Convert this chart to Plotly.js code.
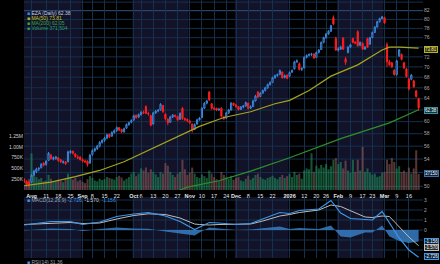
<!DOCTYPE html>
<html><head><meta charset="utf-8">
<script src="https://cdn.plot.ly/plotly-3.0.1.min.js"></script>
<style>html,body{margin:0;padding:0;background:#000;overflow:hidden}#c{width:440px;height:264px}</style>
</head><body><div id="c"></div>
<script>
// ---- trading days shown (categories) ----
const tradingDays = {
 "2025-07":[29,30,31],
 "2025-08":[1,4,5,6,7,8,11,12,13,14,15,18,19,20,21,22,25,26,27,28,29],
 "2025-09":[2,3,4,5,8,9,10,11,12,15,16,17,18,19,22,23,24,25,26,29,30],
 "2025-10":[1,2,3,6,7,8,9,10,13,14,15,16,17,20,21,22,23,24,27,28,29,30,31],
 "2025-11":[3,4,5,6,7,10,11,12,13,14,17,18,19,20,21,24,25,26,28],
 "2025-12":[1,2,3,4,5,8,9,10,11,12,15,16,17,18,19,22,23,24,26,29,30,31],
 "2026-01":[2,5,6,7,8,9,12,13,14,15,16,20,21,22,23,26,27,28,29,30],
 "2026-02":[2,3,4,5,6,9,10,11,12,13,17,18,19,20,23,24,25,26,27],
 "2026-03":[2,3,4,5,6,9,10,11,12,13,16,17,18,19,20]
};
const dates = [];
for (const ym in tradingDays) for (const d of tradingDays[ym]) dates.push(ym + "-" + String(d).padStart(2, "0"));

// ---- EZA daily OHLC ----
const open = [
 51.0,50.7,50.6,
 50.6,51.7,52.1,52.5,52.7,53.4,53.2,53.8,54.6,54.0,54.1,54.2,53.9,53.5,53.6,53.6,55.0,55.2,54.8,54.3,54.3,
 53.9,53.7,53.7,53.4,54.7,55.3,55.6,56.0,56.6,56.9,57.3,57.9,57.6,58.2,58.5,59.0,58.7,58.3,58.9,59.5,59.9,
 60.3,61.1,60.8,61.2,61.6,62.6,61.4,61.0,59.6,61.5,61.8,62.0,62.8,61.3,60.4,59.9,60.8,61.1,60.9,60.4,62.3,60.5,60.4,
 60.1,59.6,58.7,59.6,60.3,60.7,62.3,63.2,65.2,63.1,62.3,62.3,62.0,62.3,60.8,60.6,61.5,62.0,63.2,
 62.9,62.6,62.1,62.5,62.7,63.2,62.3,62.6,63.6,65.2,64.4,65.0,65.5,66.0,66.6,67.0,67.9,68.3,68.5,69.0,67.9,68.4,
 68.2,69.0,69.6,71.0,70.6,69.5,69.8,71.9,72.3,72.5,72.6,71.9,72.9,73.5,75.0,76.0,76.8,77.4,80.4,75.8,
 73.4,73.6,75.9,71.6,72.9,74.0,75.8,75.1,77.3,74.4,74.8,73.6,75.8,74.6,76.0,77.1,78.3,79.5,80.2,
 80.4,74.5,71.0,70.8,69.3,68.5,72.2,72.5,70.8,69.6,67.6,67.6,67.3,65.4,64.0
];
const high = [
 51.2,50.9,50.7,
 51.8,52.4,52.7,52.8,53.4,53.5,53.8,55.1,54.8,54.4,54.5,54.3,54.0,53.8,53.7,55.3,55.4,55.3,54.9,54.6,54.4,
 54.1,53.9,53.8,54.8,55.5,55.8,56.2,56.8,57.1,57.5,58.0,58.0,58.4,58.7,59.2,59.1,58.8,59.0,59.7,60.0,60.4,
 61.2,61.2,61.4,61.8,61.9,62.8,61.7,61.2,61.7,62.0,62.2,63.2,62.9,61.4,60.6,61.0,61.3,61.2,61.0,61.6,62.5,60.7,60.5,
 60.3,59.7,59.7,60.5,60.8,62.5,63.4,63.8,65.4,63.2,62.6,62.4,62.4,62.5,61.0,61.7,62.2,63.4,63.3,
 63.0,62.7,62.7,62.9,63.5,63.3,62.8,63.8,64.7,65.4,65.2,65.7,66.2,66.8,67.2,68.1,68.5,68.7,69.5,69.1,68.5,68.5,
 69.1,69.5,71.2,71.5,70.9,69.9,72.1,72.5,72.7,72.8,72.7,73.1,73.6,75.2,76.2,77.0,77.6,78.8,80.9,76.2,
 74.0,74.3,76.1,72.0,74.2,74.7,76.0,75.2,77.6,75.2,75.0,74.2,76.0,76.2,77.3,78.5,79.7,80.4,80.8,
 80.6,75.0,71.4,71.0,69.6,71.4,73.6,72.7,71.0,69.8,67.9,68.6,67.5,65.6,64.2
];
const low = [
 50.5,50.0,50.0,
 50.5,51.5,51.9,52.2,52.6,52.9,53.0,53.7,53.9,53.8,53.9,53.6,53.4,53.3,53.1,53.5,54.8,54.7,54.2,54.0,53.8,
 53.5,53.4,52.9,53.3,54.5,55.1,55.4,55.8,56.4,56.7,57.1,57.3,57.5,58.0,58.3,58.4,58.1,58.2,58.8,59.3,59.7,
 60.1,60.5,60.6,61.0,61.3,61.3,61.0,59.2,59.5,61.3,61.6,61.9,61.5,60.2,59.4,59.8,60.6,60.7,60.1,60.3,60.3,60.1,59.9,
 59.6,58.2,58.6,59.5,60.2,60.6,62.2,63.0,63.6,62.1,62.0,61.8,61.9,60.7,60.3,60.5,61.3,61.9,62.7,
 62.4,61.9,62.0,62.3,62.6,62.1,62.2,62.5,63.5,64.1,64.3,64.9,65.3,65.8,66.4,66.9,67.7,68.1,68.4,67.7,67.8,67.6,
 68.0,68.8,69.5,70.8,69.3,69.2,69.7,71.7,72.1,72.2,71.6,71.8,72.7,73.4,74.8,75.8,76.6,77.2,78.7,73.2,
 73.1,73.4,73.4,70.4,72.7,73.8,74.8,74.6,74.1,74.2,73.4,73.4,73.8,74.5,75.9,77.0,78.2,79.3,80.0,
 79.0,70.0,70.2,69.8,68.3,68.3,72.0,71.3,69.6,67.9,65.5,67.4,66.0,64.2,61.9
];
const close = [
 50.6,50.3,50.2,
 51.6,52.2,52.5,52.6,53.2,53.1,53.7,54.9,54.1,54.2,54.3,53.8,53.6,53.6,53.3,55.1,55.2,54.9,54.4,54.2,53.9,
 53.7,53.6,53.2,54.6,55.3,55.6,56.0,56.6,56.9,57.3,57.8,57.5,58.2,58.5,59.0,58.6,58.3,58.8,59.5,59.8,60.2,
 61.0,60.7,61.2,61.6,61.5,61.4,61.3,59.4,61.5,61.8,61.9,63.0,61.7,60.5,59.8,60.8,61.1,60.9,60.3,61.4,60.5,60.4,60.2,
 59.8,58.6,59.5,60.3,60.6,62.3,63.2,63.6,63.8,62.3,62.2,62.0,62.1,60.9,60.5,61.5,62.0,63.2,62.9,
 62.6,62.1,62.5,62.7,63.3,62.3,62.6,63.6,64.5,64.3,65.0,65.5,66.0,66.6,67.0,67.9,68.3,68.5,69.3,67.9,68.3,67.8,
 68.9,69.3,71.0,71.2,69.5,69.7,71.9,72.3,72.5,72.6,71.8,72.9,73.4,75.0,76.0,76.8,77.4,78.6,79.0,73.4,
 73.6,74.0,73.6,70.9,74.0,74.5,75.0,74.8,74.3,75.0,73.6,74.0,74.0,76.0,77.1,78.3,79.5,80.2,80.6,
 79.2,71.0,70.4,70.0,68.5,71.2,73.4,71.5,69.8,68.1,65.8,68.4,66.2,64.4,62.38
];
// volume in thousands of shares
const volumeK = [
 120,180,250,
 850,420,300,250,280,200,220,350,260,180,200,240,210,180,260,380,300,240,280,200,230,
 190,160,250,320,280,220,200,260,230,250,300,280,260,240,300,330,290,220,260,300,380,
 420,320,380,500,450,520,400,480,420,360,300,420,380,620,560,420,350,300,380,420,700,480,350,
 400,520,380,300,280,360,320,280,450,380,300,250,220,420,350,300,260,330,240,
 280,300,220,200,260,330,240,280,350,380,300,260,240,280,300,330,280,250,300,350,280,320,
 380,300,420,350,380,260,450,500,480,850,420,560,500,580,520,600,480,550,700,740,
 600,650,500,680,450,400,700,420,700,450,1000,420,500,400,350,380,300,320,400,
 420,700,600,740,650,500,550,420,450,400,520,380,500,920,372
];

// ---- moving averages (read at sample dates) ----
const ma50Dates = ["2025-07-29","2025-08-13","2025-08-27","2025-09-11","2025-09-25","2025-10-10","2025-10-24","2025-11-07","2025-11-21","2025-12-09","2025-12-23","2026-01-02","2026-01-14","2026-01-28","2026-02-12","2026-02-27","2026-03-04","2026-03-10","2026-03-20"];
const ma50 = [50.1,50.6,51.4,52.3,53.6,55.5,57.4,59.2,60.7,61.7,63.1,63.7,65.5,68.2,70.4,73.4,74.0,74.0,73.81];
const ma200Dates = ["2025-10-24","2025-10-31","2025-11-19","2025-12-09","2026-01-02","2026-02-03","2026-03-04","2026-03-20"];
const ma200 = [49.2,49.9,50.8,52.2,54.2,57.2,59.8,62.05];

// ---- MACD(12,26,9) (read at sample dates) ----
const macdDates = ["2025-07-29","2025-08-13","2025-08-25","2025-09-02","2025-09-11","2025-09-22","2025-10-01","2025-10-09","2025-10-20","2025-10-28","2025-11-05","2025-11-07","2025-11-13","2025-11-19","2025-12-01","2025-12-09","2025-12-16","2025-12-26","2026-01-02","2026-01-08","2026-01-21","2026-01-28","2026-02-03","2026-02-09","2026-02-18","2026-02-23","2026-02-27","2026-03-04","2026-03-10","2026-03-16","2026-03-20"];
const macd =   [0.50,0.85,0.85,0.55,0.80,1.35,1.60,1.75,1.40,0.85,0.05,0.30,0.75,0.70,0.55,0.65,1.10,1.75,1.65,1.95,2.10,2.95,1.70,1.15,1.05,1.00,1.85,0.70,-0.80,-2.00,-2.726];
const signal = [0.55,0.70,0.75,0.65,0.70,1.10,1.45,1.62,1.55,1.20,0.60,0.55,0.50,0.55,0.55,0.60,0.90,1.40,1.55,1.75,2.00,2.50,2.35,1.90,1.30,1.25,1.40,1.35,0.30,-0.70,-1.570];
const hist =   [-0.05,0.15,0.10,-0.10,0.10,0.25,0.15,0.13,-0.15,-0.35,-0.55,-0.25,0.25,0.15,0.00,0.05,0.20,0.35,0.10,0.20,0.10,0.45,-0.65,-0.75,-0.25,-0.25,0.45,-0.65,-1.10,-1.30,-1.156];

// ---- axis labels ----
const tickDates = ["2025-08-01","2025-08-11","2025-08-18","2025-08-25","2025-09-02","2025-09-08","2025-09-15","2025-09-22","2025-10-01","2025-10-06","2025-10-13","2025-10-20","2025-10-27","2025-11-03","2025-11-10","2025-11-17","2025-11-24","2025-12-01","2025-12-08","2025-12-15","2025-12-22","2026-01-02","2026-01-12","2026-01-20","2026-01-26","2026-02-02","2026-02-09","2026-02-17","2026-02-23","2026-03-02","2026-03-09","2026-03-16"];
const tickLabels = ["<b>Aug</b>","11","18","25","<b>Sep</b>","8","15","22","<b>Oct</b>","6","13","20","27","<b>Nov</b>","10","17","24","<b>Dec</b>","8","15","22","<b>2026</b>","12","20","26","<b>Feb</b>","9","17","23","<b>Mar</b>","9","16"];
// labels 52, 62, 74 sit under the value boxes in the reference
const priceTicks = [50,54,56,58,60,64,66,68,70,72,76,78,80,82,84];
const priceGrid = [50,52,54,56,58,60,62,64,66,68,70,72,74,76,78,80,82,84];
const volTicks = [250000,500000,750000,1000000,1250000];
const volTickLabels = ["250K","500K","750K","1.00M","1.25M"];
const macdTicks = [0,1,2,3];
const macdGrid = [-2,-1,0,1,2,3];
const shadedMonths = [["2025-07-29","2025-09-02"],["2025-10-01","2025-11-03"],["2025-12-01","2026-01-02"],["2026-02-02","2026-03-02"]];

// ---- build ----
const pos = d => dates.indexOf(d);
const xs = dates.map((d, i) => i);
const volume = volumeK.map(v => v * 1000);
const volColors = close.map((c, i) => (i === 0 ? c >= open[i] : c >= close[i - 1]) ? "rgba(35,140,88,0.6)" : "rgba(140,88,88,0.6)");

const W = 440, H = 264, L = 24, R = 17;
const px = x => (x - L) / (W - L - R);
const py = y => 1 - y / H;
const FONT = "Liberation Sans, Arial, sans-serif";
const grid = "#14304c";

const traces = [
 {type: "bar", x: xs, y: volume, xaxis: "x", yaxis: "y", marker: {color: volColors, line: {width: 0}}, hoverinfo: "skip"},
 {type: "candlestick", x: xs, open: open, high: high, low: low, close: close, xaxis: "x", yaxis: "y3", whiskerwidth: 0,
  increasing: {line: {color: "#3b8ae0", width: 1}, fillcolor: "#0b0f22"},
  decreasing: {line: {color: "#ff1e1e", width: 1}, fillcolor: "#ff1e1e"}, hoverinfo: "skip"},
 {type: "scatter", mode: "lines", x: ma50Dates.map(pos), y: ma50, xaxis: "x", yaxis: "y3", line: {color: "#a6a41c", width: 1.2}, hoverinfo: "skip"},
 {type: "scatter", mode: "lines", x: ma200Dates.map(pos), y: ma200, xaxis: "x", yaxis: "y3", line: {color: "#2f8f2a", width: 1.2}, hoverinfo: "skip"},
 {type: "scatter", mode: "lines", x: macdDates.map(pos), y: hist, xaxis: "x2", yaxis: "y2", fill: "tozeroy", fillcolor: "rgba(55,125,195,0.85)", line: {width: 0, color: "rgba(0,0,0,0)"}, hoverinfo: "skip"},
 {type: "scatter", mode: "lines", x: macdDates.map(pos), y: signal, xaxis: "x2", yaxis: "y2", line: {color: "#bdbdbd", width: 1}, hoverinfo: "skip"},
 {type: "scatter", mode: "lines", x: macdDates.map(pos), y: macd, xaxis: "x2", yaxis: "y2", line: {color: "#3f95e8", width: 1.2}, hoverinfo: "skip"}
];

const shapes = [];
for (const [a, b] of shadedMonths) {
 const x0 = a === dates[0] ? -5 : pos(a) - 0.5, x1 = pos(b) - 0.5;
 shapes.push({type: "rect", xref: "x", yref: "y domain", x0, x1, y0: 0, y1: 1, fillcolor: "#121229", line: {width: 0}, layer: "below"});
 shapes.push({type: "rect", xref: "x2", yref: "y2 domain", x0, x1, y0: 0, y1: 1, fillcolor: "#121229", line: {width: 0}, layer: "below"});
}
for (const g of priceGrid) shapes.push({type: "line", xref: "x domain", yref: "y3", x0: 0, x1: 1, y0: g, y1: g, line: {color: g === 82 ? "#2c5280" : grid, width: 1}, layer: "below"});
for (const g of macdGrid) shapes.push({type: "line", xref: "x2 domain", yref: "y2", x0: 0, x1: 1, y0: g, y1: g, line: {color: grid, width: 1}, layer: "below"});

const ann = [];
function txt(x, y, t, color, size) {
 ann.push({xref: "paper", yref: "paper", x: px(x), y: py(y), text: t, showarrow: false, xanchor: "left", yanchor: "middle",
  font: {family: FONT, size: size || 5, color: color}});
}
// legend
txt(25, 13, "<span style='color:#3b8ae0'>■</span> EZA (Daily) 62.38", "#c9d0de");
txt(25, 18, "<span style='color:#b8b620'>■</span> MA(50) 73.81", "#c6c42a");
txt(25, 23, "<span style='color:#3aa63a'>■</span> MA(200) 62.05", "#3aa63a");
txt(25, 28, "<span style='color:#2d9e68'>■</span> Volume 371,504", "#2d9e68");
txt(25, 200, "<span style='color:#3f95e8'>■</span> MACD(12,26,9) <span style='color:#3f95e8'>-2.726</span>, <span style='color:#d0d0d0'>-1.570</span>, <span style='color:#3f95e8'>-1.156</span>", "#9aa6b8");
txt(25, 261.5, "<span style='color:#3f95e8'>■</span> RSI(14) 31.36", "#9aa6b8");
// right value boxes
function box(y, t, bg, bd, col) {
 ann.push({xref: "paper", yref: "paper", x: px(423.5), y: py(y), text: t, showarrow: false, xanchor: "left", yanchor: "middle",
  font: {family: FONT, size: 4.5, color: col}, bgcolor: bg, bordercolor: bd, borderwidth: 1, borderpad: 0});
}
box(49.7, "73.81", "#3a3a0c", "#b8b620", "#f0f0c0");
box(110.7, "62.38", "#0d3640", "#3a8fa0", "#ffffff");
box(173, "37150", "#0e2440", "#3b6fa8", "#ffffff");
box(241, "-1.156", "#0e2440", "#3f95e8", "#ffffff");
box(247, "-1.570", "#303030", "#bdbdbd", "#ffffff");
box(256.5, "-2.726", "#0e2440", "#3f95e8", "#ffffff");

const xr = [-0.08, 163.8];
const layout = {
 width: W, height: H, margin: {l: L, r: R, t: 0, b: 0}, paper_bgcolor: "#000", plot_bgcolor: "#000",
 showlegend: false, bargap: 0.15,
 font: {family: FONT, color: "#c8c8c8", size: 6},
 xaxis: {domain: [0, 1], anchor: "y", range: xr, tickvals: tickDates.map(pos), ticktext: tickLabels, tickangle: 0, ticks: "", showgrid: true, gridcolor: grid, gridwidth: 1,
  zeroline: false, showline: false, tickfont: {size: 5.5, color: "#e6e6e6", family: FONT}, rangeslider: {visible: false}, ticklabelstandoff: 1},
 xaxis2: {domain: [0, 1], anchor: "y2", matches: "x", range: xr, tickvals: tickDates.map(pos), showticklabels: false, ticks: "", showgrid: true, gridcolor: grid, zeroline: false, rangeslider: {visible: false}},
 yaxis: {domain: [py(190), 1], range: [0, 4.4e6], side: "left", tickvals: volTicks, ticktext: volTickLabels, showgrid: false, zeroline: false, ticks: "",
  tickfont: {size: 5, color: "#d0d0d0", family: FONT}},
 yaxis3: {overlaying: "y", side: "right", type: "log", range: [Math.log10(49.5), Math.log10(84.5)], tickvals: priceTicks, ticktext: priceTicks.map(String),
  showgrid: false, zeroline: false, ticks: "", tickfont: {size: 5, color: "#a8a8a8", family: FONT}, anchor: "x"},
 yaxis2: {domain: [py(258), py(197)], range: [-2.8, 3.3], side: "right", tickvals: macdTicks, showgrid: false, zeroline: false, ticks: "",
  tickfont: {size: 5, color: "#a8a8a8", family: FONT}, anchor: "x2"},
 shapes: shapes, annotations: ann
};
Plotly.newPlot("c", traces, layout, {staticPlot: true, displayModeBar: false});
</script></body></html>
